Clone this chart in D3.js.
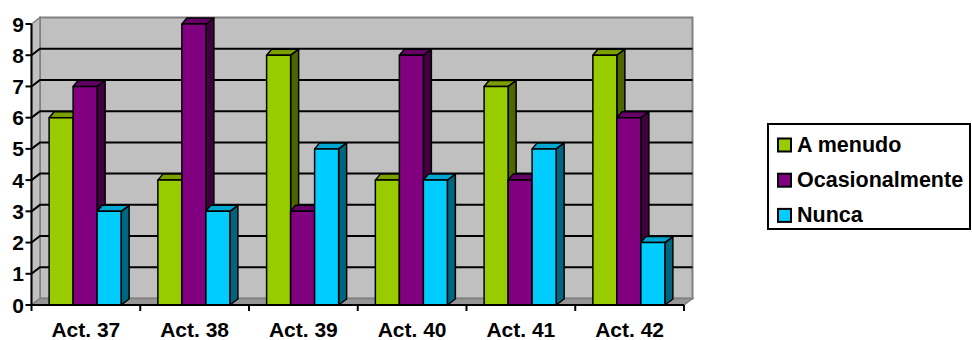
<!DOCTYPE html>
<html><head><meta charset="utf-8">
<script src="https://cdn.jsdelivr.net/npm/d3@7"></script>
<style>body{margin:0;background:#fff}svg{display:block}text{font-family:"Liberation Sans",Arial,sans-serif;font-weight:bold;fill:#000}</style>
</head><body><svg id="c" width="972" height="340"></svg>
<script>
const categories = ["Act. 37","Act. 38","Act. 39","Act. 40","Act. 41","Act. 42"];
const seriesNames = ["A menudo","Ocasionalmente","Nunca"];
const aMenudo = [6,4,8,4,7,8];
const ocasionalmente = [7,9,3,8,4,6];
const nunca = [3,3,5,4,5,2];
const yTicks = [0,1,2,3,4,5,6,7,8,9];
const seriesValues = [aMenudo, ocasionalmente, nunca];
const colors = [
  {front:"#99cc00", top:"#7a9f00", side:"#4d6600"},
  {front:"#800080", top:"#660066", side:"#400040"},
  {front:"#00ccff", top:"#00a6d0", side:"#006680"}
];

const svg = d3.select("#c");
const x0 = 31.5, x1 = 684, yB = 305, yT = 24;
const wdx = 8.5, wdy = -6.5;
const x = d3.scaleBand().domain(categories).range([x0, x1]).padding(0);
const bw = x.bandwidth();
const xs = d3.scaleBand().domain(seriesNames).range([bw*0.162, bw*0.162 + 72]).padding(0);
const y = d3.scaleLinear().domain([0,9]).range([yB, yT]);
const poly = pts => pts.map(p => p.join(",")).join(" ");

// back wall
svg.append("rect").attr("x", x0+wdx).attr("y", y(9)+wdy).attr("width", x1-x0).attr("height", y(0)-y(9))
  .attr("fill","#c0c0c0").attr("stroke","#808080").attr("stroke-width",2);
// left wall
svg.append("polygon").attr("points", poly([[x0,y(0)],[x0+wdx,y(0)+wdy],[x0+wdx,y(9)+wdy],[x0,y(9)]]))
  .attr("fill","#c0c0c0").attr("stroke","#808080").attr("stroke-width",1.5);
// gridlines
yTicks.filter(t => t>0 && t<9).forEach(t => {
  svg.append("polyline").attr("points", poly([[x0,y(t)],[x0+wdx,y(t)+wdy],[x1+wdx,y(t)+wdy]]))
    .attr("fill","none").attr("stroke","#000").attr("stroke-width",2);
});
// floor
svg.append("polygon").attr("points", poly([[x0,y(0)],[x1,y(0)],[x1+wdx,y(0)+wdy],[x0+wdx,y(0)+wdy]]))
  .attr("fill","#969696").attr("stroke","#808080").attr("stroke-width",1.5);

// bars
const bdy = -6, bdxL = 5, bdxR = 8;
categories.forEach((c, i) => {
  seriesNames.forEach((s, j) => {
    const v = seriesValues[j][i];
    const xl = x(c) + xs(s), xr = xl + xs.bandwidth(), yt = y(v), yb = y(0);
    const g = svg.append("g").attr("stroke","#000").attr("stroke-width",1.5).attr("stroke-linejoin","round");
    g.append("polygon").attr("points", poly([[xr,yb],[xr+bdxR,yb+bdy],[xr+bdxR,yt+bdy],[xr,yt]])).attr("fill", colors[j].side);
    g.append("polygon").attr("points", poly([[xl,yt],[xl+bdxL,yt+bdy],[xr+bdxR,yt+bdy],[xr,yt]])).attr("fill", colors[j].top);
    g.append("rect").attr("x", xl).attr("y", yt).attr("width", xr-xl).attr("height", yb-yt).attr("fill", colors[j].front);
  });
});

// axes
svg.append("line").attr("x1",x0).attr("x2",x0).attr("y1",y(0)).attr("y2",y(9)).attr("stroke","#000").attr("stroke-width",2);
svg.append("line").attr("x1",x0).attr("x2",x1).attr("y1",y(0)).attr("y2",y(0)).attr("stroke","#000").attr("stroke-width",2);
yTicks.forEach(t => {
  svg.append("line").attr("x1",x0-6).attr("x2",x0).attr("y1",y(t)).attr("y2",y(t)).attr("stroke","#000").attr("stroke-width",2);
  svg.append("text").attr("x",24).attr("y",y(t)+7.5).attr("text-anchor","end").style("font-size","21px").text(t);
});
const bounds = categories.map(c => x(c)).concat([x1]);
bounds.forEach(b => {
  svg.append("line").attr("x1",b).attr("x2",b).attr("y1",y(0)).attr("y2",y(0)+6).attr("stroke","#000").attr("stroke-width",2);
});
categories.forEach(c => {
  svg.append("text").attr("x", x(c)+bw/2).attr("y", 336.5).attr("text-anchor","middle").style("font-size","21px").text(c);
});

// legend
svg.append("rect").attr("x",768).attr("y",124).attr("width",202).attr("height",105).attr("fill","#fff").attr("stroke","#000").attr("stroke-width",2);
seriesNames.forEach((s, j) => {
  const cy = 145 + j*35.2;
  svg.append("rect").attr("x",778).attr("y",cy-6.5).attr("width",13).attr("height",13).attr("fill",colors[j].front).attr("stroke","#000").attr("stroke-width",2);
  svg.append("text").attr("x",797).attr("y",cy+6.5).style("font-size","21.5px").text(s);
});
</script></body></html>
